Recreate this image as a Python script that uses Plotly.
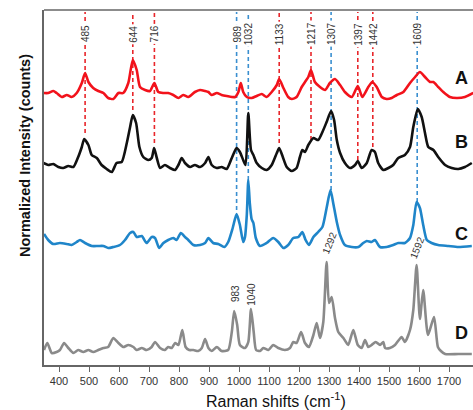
import plotly.graph_objects as go

# ---------------- data ----------------
series_names = ["A", "B", "C", "D"]

a_shift = [348, 364, 381, 392, 409, 426, 442, 459, 476, 487, 498, 514, 531, 548, 564, 581, 598, 614,
           631, 646, 659, 670, 687, 703, 718, 731, 748, 764, 781, 798, 814, 831, 853, 870, 887, 898,
           909, 926, 942, 959, 987, 998, 1006, 1014, 1026, 1042, 1059, 1076, 1092, 1109, 1126, 1134,
           1148, 1164, 1176, 1192, 1209, 1220, 1231, 1240, 1253, 1270, 1287, 1303, 1320, 1337, 1353,
           1376, 1396, 1411, 1431, 1444, 1459, 1476, 1492, 1509, 1526, 1548, 1570, 1587, 1603, 1620,
           1637, 1648, 1664, 1681, 1703, 1726, 1753, 1781]
a_counts = [272, 272, 274, 272, 268, 270, 268, 272, 282, 292, 283, 277, 274, 272, 267, 266, 272, 272,
            282, 305, 295, 278, 275, 274, 282, 273, 272, 272, 270, 267, 270, 268, 273, 275, 274, 273,
            270, 272, 270, 269, 268, 273, 282, 273, 268, 267, 269, 271, 268, 273, 280, 286,
            277, 268, 266, 268, 278, 283, 288, 295, 283, 278, 275, 282, 286, 280, 273,
            268, 279, 268, 278, 283, 278, 268, 266, 267, 270, 273, 282, 288, 293, 288,
            283, 283, 278, 273, 268, 267, 268, 272]

b_shift = [348, 364, 381, 398, 414, 431, 448, 464, 476, 484, 498, 509, 526, 542, 559, 576, 592, 609,
           626, 637, 646, 657, 668, 681, 698, 709, 717, 726, 737, 753, 770, 787, 798, 809, 820, 837,
           853, 870, 887, 898, 909, 926, 942, 959, 976, 992, 1003, 1014, 1022, 1031, 1040, 1048, 1059,
           1076, 1092, 1109, 1126, 1134, 1146, 1159, 1176, 1192, 1203, 1211, 1220, 1231, 1248, 1264,
           1281, 1292, 1307, 1317, 1326, 1337, 1353, 1370, 1387, 1396, 1409, 1426, 1442, 1453, 1464,
           1481, 1498, 1514, 1531, 1553, 1570, 1581, 1596, 1609, 1620, 1631, 1648, 1664, 1687, 1709,
           1731, 1753, 1776]
b_counts = [202, 200, 201, 198, 197, 199, 198, 208, 218, 226, 220, 210, 207, 200, 196, 193, 202, 203,
            222, 238, 250, 242, 218, 208, 205, 207, 217, 207, 197, 200, 197, 195, 200, 207, 202, 198,
            200, 198, 202, 208, 200, 197, 198, 196, 207, 217, 213, 205, 200, 252, 215, 210, 202,
            197, 195, 200, 212, 217, 208, 198, 194, 197, 208, 215, 213, 220, 227, 225,
            235, 243, 254, 245, 225, 212, 202, 197, 200, 204, 197, 202, 215, 213, 202,
            195, 197, 200, 207, 210, 218, 238, 256, 248, 232, 218, 215, 208, 200, 197,
            196, 198, 202]

c_shift = [350, 364, 381, 403, 426, 442, 459, 470, 487, 509, 531, 548, 564, 581, 603, 620, 637, 648,
           659, 676, 692, 709, 720, 734, 748, 764, 781, 792, 806, 820, 831, 848, 870, 887, 898, 914,
           931, 951, 964, 979, 992, 1003, 1014, 1020, 1026, 1031, 1036, 1042, 1048, 1056, 1070, 1092,
           1114, 1131, 1148, 1164, 1181, 1198, 1211, 1222, 1233, 1248, 1264, 1278, 1292, 1305, 1314,
           1326, 1337, 1353, 1376, 1398, 1414, 1426, 1442, 1453, 1470, 1492, 1514, 1531, 1553, 1570,
           1581, 1592, 1603, 1614, 1626, 1642, 1664, 1698, 1731, 1776]
c_counts = [131, 125, 121, 122, 121, 120, 123, 125, 122, 119, 119, 119, 117, 118, 120, 125, 132, 133,
            128, 129, 122, 128, 127, 117, 122, 125, 127, 125, 132, 128, 125, 120, 120, 122, 127, 122,
            121, 118, 123, 137, 151, 140, 123, 128, 150, 185, 162, 146, 142, 127, 119, 122,
            127, 123, 117, 120, 127, 128, 133, 125, 120, 128, 133, 138, 157, 175, 162,
            143, 130, 120, 118, 118, 122, 124, 123, 125, 118, 118, 120, 122, 122, 127,
            140, 163, 157, 140, 125, 122, 120, 119, 118, 119]

d_shift = [350, 361, 376, 392, 403, 417, 431, 448, 464, 481, 498, 514, 531, 548, 564, 581, 598, 614,
           631, 648, 659, 676, 692, 709, 720, 737, 753, 764, 776, 787, 798, 811, 822, 834, 848, 864,
           876, 887, 898, 909, 926, 942, 964, 976, 984, 994, 1003, 1020, 1031, 1040, 1049, 1057, 1070,
           1081, 1098, 1114, 1131, 1153, 1170, 1181, 1192, 1207, 1220, 1233, 1248, 1259, 1270, 1281,
           1292, 1300, 1309, 1320, 1331, 1348, 1364, 1381, 1396, 1409, 1420, 1431, 1442, 1456, 1470,
           1481, 1487, 1503, 1520, 1542, 1553, 1570, 1581, 1592, 1603, 1614, 1630, 1650, 1663, 1673,
           1687, 1731, 1776]
d_counts = [15, 22, 12, 13, 15, 22, 17, 12, 15, 13, 15, 13, 15, 17, 18, 27, 22, 18,
            20, 18, 15, 17, 15, 18, 23, 17, 15, 18, 17, 22, 20, 35, 18, 15, 15, 14,
            17, 26, 17, 14, 18, 14, 15, 33, 54, 40, 20, 17, 23, 56, 33, 15, 14,
            17, 15, 20, 17, 15, 17, 23, 22, 33, 22, 18, 30, 42, 27, 43,
            103, 62, 68, 47, 33, 27, 20, 35, 20, 17, 25, 18, 20, 23, 20,
            23, 17, 17, 20, 28, 23, 35, 55, 100, 46, 75, 30, 48, 18, 14,
            11, 11, 11]

# peak marker lines: position read on the axis, printed label, lower end
red_line_pos = [487, 646, 718, 1134, 1240, 1396, 1446]
red_line_text = ["485", "644", "716", "1133", "1217", "1397", "1442"]
red_line_end = [232, 255, 222, 222, 225, 205, 218]

blue_line_pos = [992, 1031, 1307, 1594]
blue_line_text = ["989", "1032", "1307", "1609"]
blue_line_end = [155, 185, 175, 163]

d_peak_pos = [987, 1039, 1300, 1593]
d_peak_text = ["983", "1040", "1292", "1592"]

x_ticks = list(range(400, 1800, 100))

# ---------------- figure ----------------
colors = {"A": "#f2121b", "B": "#111111", "C": "#1f85c9", "D": "#8a8a8a"}
xs = {"A": a_shift, "B": b_shift, "C": c_shift, "D": d_shift}
ys = {"A": a_counts, "B": b_counts, "C": c_counts, "D": d_counts}

fig = go.Figure()
for name in series_names:
    fig.add_trace(go.Scatter(
        x=xs[name], y=ys[name], mode="lines", name=name,
        line=dict(color=colors[name], width=2.6, shape="spline", smoothing=0.6),
        showlegend=False, hoverinfo="skip"))

FONT = "Arial, Liberation Sans, sans-serif"
shapes = []
annotations = []
LINE_TOP = 353
LABEL_Y = 331

for pos, txt, end in zip(red_line_pos, red_line_text, red_line_end):
    shapes.append(dict(type="line", xref="x", yref="y", x0=pos, x1=pos, y0=end, y1=LINE_TOP,
                       line=dict(color="#e8262b", width=1.6, dash="4px,3px"), layer="below"))
    annotations.append(dict(x=pos, y=LABEL_Y, xref="x", yref="y", text=txt, showarrow=False,
                            textangle=-90, bgcolor="white", borderpad=1,
                            font=dict(family=FONT, size=10, color="#333")))
for pos, txt, end in zip(blue_line_pos, blue_line_text, blue_line_end):
    shapes.append(dict(type="line", xref="x", yref="y", x0=pos, x1=pos, y0=end, y1=LINE_TOP,
                       line=dict(color="#3a8fd0", width=1.6, dash="4px,3px"), layer="below"))
    annotations.append(dict(x=pos, y=LABEL_Y, xref="x", yref="y", text=txt, showarrow=False,
                            textangle=-90, bgcolor="white", borderpad=1,
                            font=dict(family=FONT, size=10, color="#333")))

d_label_y = [71, 71, 122, 118]
d_label_angle = [-90, -90, -68, -68]
for pos, txt, yy, ang in zip(d_peak_pos, d_peak_text, d_label_y, d_label_angle):
    annotations.append(dict(x=pos, y=yy, xref="x", yref="y", text=txt, showarrow=False,
                            textangle=ang, font=dict(family=FONT, size=10, color="#333")))

letter_y = [287, 223, 131, 32]
for name, yy in zip(series_names, letter_y):
    annotations.append(dict(x=1740, y=yy, xref="x", yref="y", text="<b>%s</b>" % name,
                            showarrow=False, font=dict(family=FONT, size=18, color="#111")))

# axis titles
annotations.append(dict(x=-0.044, y=0.589, xref="paper", yref="paper",
                        xanchor="center", yanchor="middle",
                        text="<b>Normalized Intensity (counts)</b>", showarrow=False,
                        textangle=-90, font=dict(family=FONT, size=14.5, color="#111")))
annotations.append(dict(x=0.541, y=-0.0986, xref="paper", yref="paper",
                        xanchor="center", yanchor="middle",
                        text="Raman shifts (cm<sup>-1</sup>)", showarrow=False,
                        font=dict(family=FONT, size=16, color="#111")))

# top frame line
shapes.append(dict(type="line", xref="paper", yref="paper", x0=0, x1=1, y0=1, y1=1,
                   line=dict(color="#666", width=1.5)))

fig.update_layout(
    width=473, height=410,
    margin=dict(l=44, r=0, t=10, b=45),
    plot_bgcolor="white", paper_bgcolor="white",
    shapes=shapes, annotations=annotations,
    xaxis=dict(range=[350, 1780], tickvals=x_ticks, ticks="outside", ticklen=5,
               tickcolor="#666", tickwidth=1.2, showline=True, linecolor="#666", linewidth=1.5,
               showgrid=False, zeroline=False, automargin=False,
               tickfont=dict(family=FONT, size=11, color="#333")),
    yaxis=dict(range=[0, 355], showticklabels=False, ticks="", showline=True, automargin=False,
               linecolor="#666", linewidth=1.5, showgrid=False, zeroline=False),
)

fig.write_html("out.html", config={"displayModeBar": False},
               post_script="document.body.style.margin='0';document.body.style.overflow='hidden';")
